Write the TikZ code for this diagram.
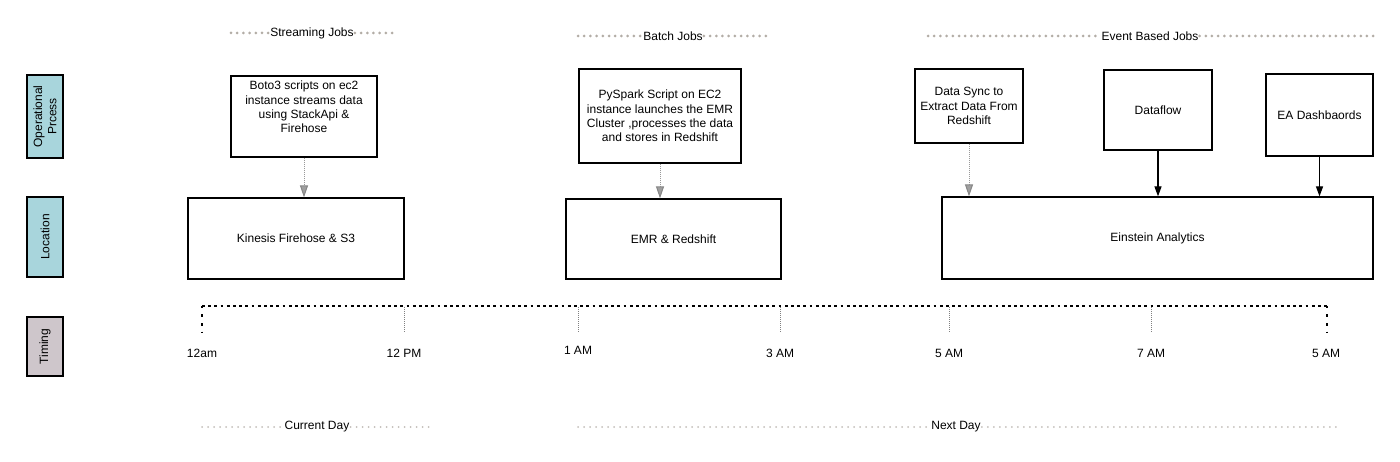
\documentclass[tikz,border=0pt]{standalone}
\usepackage{fontspec}
\setmainfont{Liberation Sans}
\usetikzlibrary{arrows.meta}
\definecolor{lblblue}{HTML}{A8D5DC}
\definecolor{lblpink}{HTML}{CEC6CB}
\definecolor{dotgray}{HTML}{B3ADA6}
\definecolor{daygray}{HTML}{C2BDB8}
\begin{document}
\begin{tikzpicture}[x=1pt,y=-1pt, font=\fontsize{12}{14.3}\selectfont,
 box/.style={draw=black, line width=1.2pt, inner sep=0pt, align=center},
 sidelbl/.style={draw=black, line width=2pt, inner sep=0pt, align=center, rotate=90},
 hdrdots/.style={dotgray, line width=3pt, dash pattern=on 0pt off 6.2pt, line cap=round},
 daydots/.style={daygray, line width=2pt, dash pattern=on 0pt off 6pt, line cap=round},
 dotarrow/.style={gray!80, line width=1pt, dash pattern=on 1pt off 1pt, -{Triangle[width=8pt,length=12pt,fill=gray!75,color=gray!95]}},
 solidarrow/.style={black, line width=1.2pt, -{Triangle[width=7pt,length=10pt]}},
 tickline/.style={gray, line width=1pt, dash pattern=on 1pt off 1pt},
 timeline/.style={black, line width=1.4pt, dash pattern=on 2.8pt off 3.4pt},
 endtick/.style={black, line width=2pt, dash pattern=on 2.5pt off 6pt},
 hdr/.style={inner sep=1pt},
]
\useasboundingbox (0,0) rectangle (1400,462);

% side labels
\node[sidelbl, fill=lblblue, minimum width=83pt, minimum height=36pt] (op) at (45,116.5) {Operational\\Prcess};
\node[sidelbl, fill=lblblue, minimum width=80pt, minimum height=36pt] (loc) at (45,237) {Location};
\node[sidelbl, fill=lblpink, minimum width=59pt, minimum height=36pt] (tim) at (45,346.5) {Timing};

% headers
\node[hdr] (hs) at (312,33) {Streaming Jobs};
\coordinate (hs1) at (231,33); \coordinate (hs2) at (393,33);
\draw[hdrdots] (hs1) -- (hs.west); \draw[hdrdots] (hs.east) -- (hs2);
\node[hdr] (hb) at (673,36) {Batch Jobs};
\coordinate (hb1) at (578,36); \coordinate (hb2) at (768,36);
\draw[hdrdots] (hb1) -- (hb.west); \draw[hdrdots] (hb.east) -- (hb2);
\node[hdr] (he) at (1150,36) {Event Based Jobs};
\coordinate (he1) at (928,36); \coordinate (he2) at (1377,36);
\draw[hdrdots] (he1) -- (he.west); \draw[hdrdots] (he.east) -- (he2);

% process boxes
\node[box, minimum width=146pt, minimum height=81pt,
  label={[align=center, yshift=9.5pt]center:Boto3 scripts on ec2\\instance streams data\\using StackApi \&\\Firehose}] (boto) at (304,116.5) {};
\node[box, minimum width=162pt, minimum height=94pt] (pys) at (660,116) {PySpark Script on EC2\\instance launches the EMR\\Cluster ,processes the data\\and stores in Redshift};
\node[box, minimum width=108pt, minimum height=74pt] (ds) at (969,106) {Data Sync to\\Extract Data From\\Redshift};
\node[box, minimum width=108pt, minimum height=80pt] (df) at (1158,110) {Dataflow};
\node[box, minimum width=107pt, minimum height=82pt] (ea) at (1319.5,115) {EA Dashbaords};

% location boxes
\node[box, minimum width=216pt, minimum height=81pt] (kin) at (296,238.5) {Kinesis Firehose \& S3};
\node[box, minimum width=215pt, minimum height=80pt] (emr) at (673.5,239) {EMR \& Redshift};
\node[box, minimum width=431pt, minimum height=82pt] (ein) at (1157.5,238) {Einstein Analytics};

% connectors
\draw[dotarrow] (boto.south) -- (boto.south |- kin.north);
\draw[dotarrow] (pys.south) -- (pys.south |- emr.north);
\draw[dotarrow] (ds.south) -- (ds.south |- ein.north);
\draw[solidarrow] (df.south) -- (df.south |- ein.north);
\draw[solidarrow] (ea.south) -- (ea.south |- ein.north);

% timeline
\coordinate (tl) at (202,306); \coordinate (tr) at (1327,306);
\coordinate (tlb) at (202,333); \coordinate (trb) at (1327,333);
\draw[timeline] (tl) -- (tr);
\draw[endtick] (tl) -- (tlb);
\draw[endtick] (tr) -- (trb);
\foreach \x in {404,578,780,949,1151} {
  \draw[tickline] (\x,307) -- (\x,333);
}
\node (t1) at (202,353) {12am};
\node (t2) at (404,353) {12 PM};
\node (t3) at (578,350) {1 AM};
\node (t4) at (780,353) {3 AM};
\node (t5) at (949,353) {5 AM};
\node (t6) at (1151,353) {7 AM};
\node (t7) at (1326,353) {5 AM};

% day labels
\node[hdr] (cd) at (317,427) {Current Day};
\coordinate (cd1) at (202,427); \coordinate (cd2) at (430,427);
\draw[daydots] (cd1) -- (cd.west); \draw[daydots] (cd.east) -- (cd2);
\node[hdr] (nd) at (956,427) {Next Day};
\coordinate (nd1) at (578,427); \coordinate (nd2) at (1337,427);
\draw[daydots] (nd1) -- (nd.west); \draw[daydots] (nd.east) -- (nd2);
\end{tikzpicture}
\end{document}
